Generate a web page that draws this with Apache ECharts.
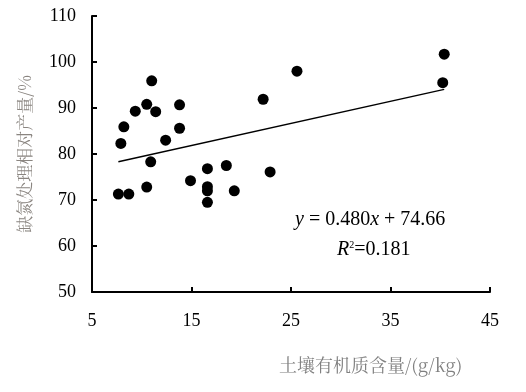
<!DOCTYPE html>
<html><head><meta charset="utf-8">
<script src="https://cdn.jsdelivr.net/npm/echarts@6/dist/echarts.min.js"></script>
<style>html,body{margin:0;padding:0;background:#fff}#c{width:526px;height:392px}</style>
</head><body><div id="c"></div>
<script>
const xValues = [7.65, 8.7, 7.9, 8.2, 9.35, 10.5, 11.0, 11.4, 10.5, 10.9, 12.4, 13.8, 13.8, 14.9, 16.6, 16.6, 16.6, 16.6, 18.5, 19.3, 22.2, 22.9, 25.6, 40.4, 40.25];
const yValues = [71.3, 71.3, 82.3, 85.9, 89.3, 90.8, 95.9, 89.2, 72.8, 78.3, 83.0, 90.7, 85.6, 74.2, 76.8, 72.9, 72.0, 69.5, 77.5, 72.0, 91.9, 76.1, 98.0, 101.7, 95.5];
const slope = 0.480, intercept = 74.66, r2 = 0.181;
const xTicks = [5, 15, 25, 35, 45];
const yTicks = [50, 60, 70, 80, 90, 100, 110];
const xName = '土壤有机质含量/(g/kg)';
const yName = '缺氮处理相对产量/%';

const pts = xValues.map((x, i) => [x, yValues[i]]);
const xmin = Math.min(...xValues), xmax = Math.max(...xValues);
const fit = [[xmin, slope * xmin + intercept], [xmax, slope * xmax + intercept]];
const serif = 'Liberation Serif';
const cjk = 'Noto Serif CJK SC';

const chart = echarts.init(document.getElementById('c'), null, {renderer: 'canvas'});
chart.setOption({
  animation: false,
  grid: {left: 92, right: 36, top: 16, bottom: 100},
  xAxis: {
    type: 'value', min: xTicks[0], max: xTicks[xTicks.length - 1], interval: 10,
    axisLine: {lineStyle: {color: '#000', width: 2}},
    axisTick: {inside: true, length: 5, lineStyle: {color: '#000', width: 2}},
    axisLabel: {margin: 20, color: '#000', fontFamily: serif, fontSize: 18},
    splitLine: {show: false}
  },
  yAxis: {
    type: 'value', min: yTicks[0], max: yTicks[yTicks.length - 1], interval: 10,
    name: yName, nameLocation: 'middle', nameGap: 59, nameRotate: 90,
    nameTextStyle: {color: '#8a8580', fontFamily: cjk, fontSize: 17},
    axisLine: {show: true, lineStyle: {color: '#000', width: 2}},
    axisTick: {show: true, inside: true, length: 5, lineStyle: {color: '#000', width: 2}},
    axisLabel: {margin: 16, color: '#000', fontFamily: serif, fontSize: 18},
    splitLine: {show: false}
  },
  series: [
    {type: 'line', data: fit, symbol: 'none', lineStyle: {color: '#000', width: 1.5}, z: 1},
    {type: 'scatter', data: pts, symbolSize: 11, itemStyle: {color: '#000', opacity: 1}, z: 2}
  ],
  graphic: [
    {type: 'text', left: 279, top: 356, style: {text: xName, fill: '#808080', fontFamily: cjk, fontSize: 18}},
    {type: 'text', left: 295, top: 210, style: {
      text: '{i|y} = 0.480{i|x} + 74.66', fill: '#000', fontFamily: serif, fontSize: 20,
      rich: {i: {fontStyle: 'italic', fontFamily: serif, fontSize: 20}}
    }},
    {type: 'text', left: 337, top: 240, style: {
      text: '{i|R}{s|2}=' + r2.toFixed(3), fill: '#000', fontFamily: serif, fontSize: 20,
      rich: {i: {fontStyle: 'italic', fontFamily: serif, fontSize: 20}, s: {fontFamily: serif, fontSize: 10, verticalAlign: 'top', padding: [0,0,8,0]}}
    }}
  ]
});
</script></body></html>
